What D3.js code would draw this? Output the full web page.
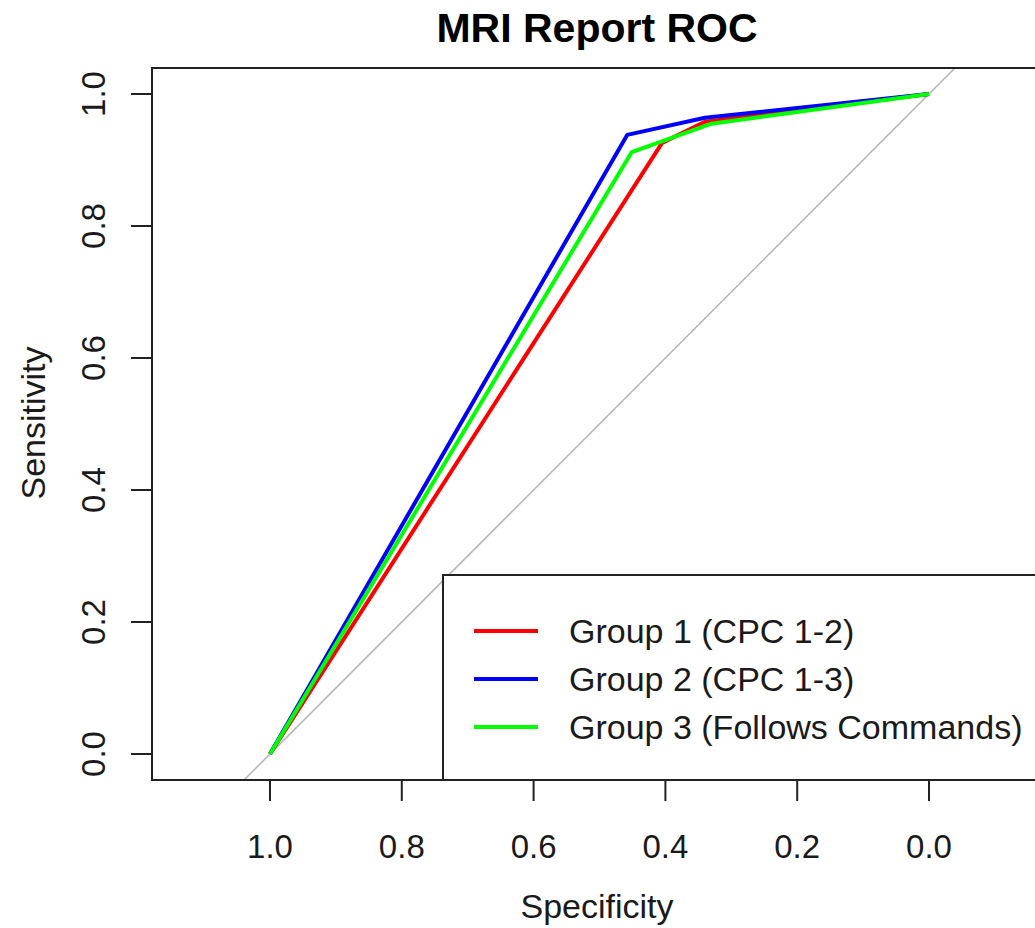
<!DOCTYPE html>
<html>
<head>
<meta charset="utf-8">
<script src="https://cdn.jsdelivr.net/npm/d3@7"></script>
<style>
  body { margin: 0; background: #fff; }
  text { font-family: "Liberation Sans", Arial, sans-serif; fill: #1a1a1a; }
</style>
</head>
<body>
<div id="chart"></div>
<script>
// ROC curve points (specificity, sensitivity)
var group1Spec = [1, 0.405, 0.34, 0];
var group1Sens = [0, 0.926, 0.958, 1];
var group2Spec = [1, 0.458, 0.34, 0];
var group2Sens = [0, 0.938, 0.964, 1];
var group3Spec = [1, 0.451, 0.33, 0];
var group3Sens = [0, 0.912, 0.955, 1];

var seriesNames = ['Group 1 (CPC 1-2)', 'Group 2 (CPC 1-3)', 'Group 3 (Follows Commands)'];
var seriesColors = ['#ff0000', '#0000ff', '#00ff00'];
var tickValues = [1.0, 0.8, 0.6, 0.4, 0.2, 0.0];

var width = 1035, height = 928;
var frame = {left: 152, top: 68, bottom: 780, right: 1045};

var svg = d3.select('#chart').append('svg')
    .attr('width', width)
    .attr('height', height);

var x = d3.scaleLinear().domain([1, 0]).range([270, 929]);
var y = d3.scaleLinear().domain([0, 1]).range([754, 94]);

svg.append('clipPath')
    .attr('id', 'plot-clip')
  .append('rect')
    .attr('x', frame.left)
    .attr('y', frame.top)
    .attr('width', frame.right - frame.left)
    .attr('height', frame.bottom - frame.top);

var plot = svg.append('g').attr('clip-path', 'url(#plot-clip)');

// identity diagonal
var diagSpec = [1.3, -0.3];
plot.append('line')
    .attr('x1', x(diagSpec[0])).attr('y1', y(1 - diagSpec[0]))
    .attr('x2', x(diagSpec[1])).attr('y2', y(1 - diagSpec[1]))
    .attr('stroke', '#b4b4b4')
    .attr('stroke-width', 1.5);

var series = [
  {spec: group1Spec, sens: group1Sens},
  {spec: group2Spec, sens: group2Sens},
  {spec: group3Spec, sens: group3Sens}
];

var line = d3.line()
    .x(d => x(d[0]))
    .y(d => y(d[1]));

series.forEach((s, i) => {
  plot.append('path')
      .datum(s.spec.map((v, j) => [v, s.sens[j]]))
      .attr('d', line)
      .attr('fill', 'none')
      .attr('stroke', seriesColors[i])
      .attr('stroke-width', 4)
      .attr('stroke-linejoin', 'round');
});

// legend
var legend = svg.append('g');
legend.append('rect')
    .attr('x', 443)
    .attr('y', 575)
    .attr('width', 700)
    .attr('height', frame.bottom - 575)
    .attr('fill', '#fff')
    .attr('stroke', '#222')
    .attr('stroke-width', 2);

seriesNames.forEach((name, i) => {
  var ly = 631 + i * 48;
  legend.append('line')
      .attr('x1', 474).attr('x2', 538)
      .attr('y1', ly).attr('y2', ly)
      .attr('stroke', seriesColors[i])
      .attr('stroke-width', 4);
  legend.append('text')
      .attr('x', 569)
      .attr('y', ly + 12)
      .style('font-size', '34px')
      .text(name);
});

// frame
svg.append('rect')
    .attr('x', frame.left)
    .attr('y', frame.top)
    .attr('width', frame.right - frame.left)
    .attr('height', frame.bottom - frame.top)
    .attr('fill', 'none')
    .attr('stroke', '#222')
    .attr('stroke-width', 2);

// x axis
var xAxis = svg.append('g').attr('class', 'x axis');
xAxis.selectAll('line')
    .data(tickValues)
  .enter().append('line')
    .attr('x1', d => x(d)).attr('x2', d => x(d))
    .attr('y1', frame.bottom).attr('y2', frame.bottom + 21)
    .attr('stroke', '#222')
    .attr('stroke-width', 2);
xAxis.selectAll('text')
    .data(tickValues)
  .enter().append('text')
    .attr('x', d => x(d))
    .attr('y', 858)
    .attr('text-anchor', 'middle')
    .style('font-size', '33px')
    .text(d => d.toFixed(1));

// y axis
var yAxis = svg.append('g').attr('class', 'y axis');
yAxis.selectAll('line')
    .data(tickValues)
  .enter().append('line')
    .attr('y1', d => y(d)).attr('y2', d => y(d))
    .attr('x1', frame.left).attr('x2', frame.left - 21)
    .attr('stroke', '#222')
    .attr('stroke-width', 2);
yAxis.selectAll('text')
    .data(tickValues)
  .enter().append('text')
    .attr('transform', d => 'translate(105,' + y(d) + ') rotate(-90)')
    .attr('text-anchor', 'middle')
    .style('font-size', '33px')
    .text(d => d.toFixed(1));

// titles
svg.append('text')
    .attr('x', 597)
    .attr('y', 42)
    .attr('text-anchor', 'middle')
    .style('font-size', '41px')
    .style('font-weight', 'bold')
    .style('fill', '#000')
    .text('MRI Report ROC');

svg.append('text')
    .attr('x', 597)
    .attr('y', 918)
    .attr('text-anchor', 'middle')
    .style('font-size', '34px')
    .text('Specificity');

svg.append('text')
    .attr('transform', 'translate(45,423) rotate(-90)')
    .attr('text-anchor', 'middle')
    .style('font-size', '34px')
    .text('Sensitivity');
</script>
</body>
</html>
